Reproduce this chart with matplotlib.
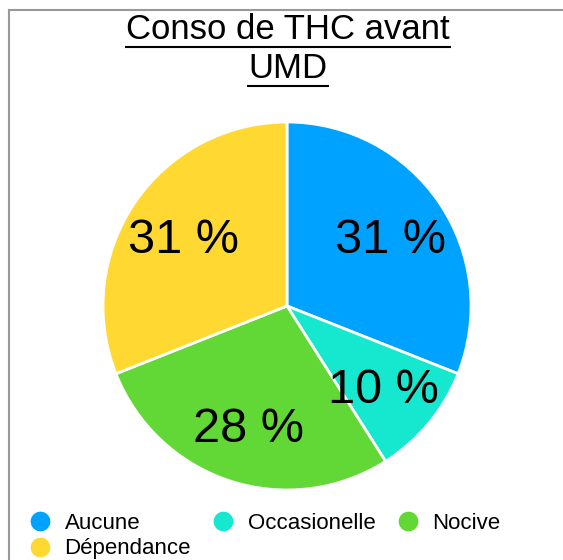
import matplotlib.pyplot as plt
from matplotlib.lines import Line2D

# Chart data
categories = ['Aucune', 'Occasionelle', 'Nocive', 'Dépendance']
values = [31, 10, 28, 31]
colors = ['#00A2FF', '#16E7CF', '#61D836', '#FFD932']
title_lines = ['Conso de THC avant', 'UMD']

plt.rcParams['font.family'] = ['Liberation Sans', 'DejaVu Sans']

W, H = 563, 560
fig = plt.figure(figsize=(W / 100, H / 100), dpi=100)

# pie axes placed in pixels: centre (287, 306), radius 184
cx, cy, r = 287, 306, 184
pad = 4
ax = fig.add_axes([(cx - r - pad) / W, (H - cy - r - pad) / H,
                   2 * (r + pad) / W, 2 * (r + pad) / H])
wedges, texts, autotexts = ax.pie(
    values, colors=colors, startangle=90, counterclock=False,
    autopct=lambda p: f'{p:.0f} %', pctdistance=0.68,
    wedgeprops=dict(edgecolor='white', linewidth=2),
    textprops=dict(fontsize=35, color='black'))
lim = (r + pad) / r
ax.set_xlim(-lim, lim)
ax.set_ylim(-lim, lim)
ax.set_aspect('equal')
# nudge the percentage labels down a little
for t in autotexts:
    x, y = t.get_position()
    t.set_position((x, y - 5 / r))

# title, two underlined lines
fig.canvas.draw()
renderer = fig.canvas.get_renderer()
for line, base in zip(title_lines, [39, 78]):
    t = fig.text(288 / W, 1 - base / H, line, ha='center', va='baseline', fontsize=25)
    bb = t.get_window_extent(renderer)
    uy = 1 - (base + 8) / H
    fig.add_artist(Line2D([bb.x0 / W, bb.x1 / W], [uy, uy], color='black', lw=1.5))

# grey frame lines at top and left
fig.add_artist(Line2D([9 / W, 1], [1 - 10 / H, 1 - 10 / H], color='#999999', lw=1.5))
fig.add_artist(Line2D([9 / W, 9 / W], [0, 1 - 10 / H], color='#999999', lw=1.5))

# legend, filled row by row
order = [0, 3, 1, 2]
handles = [Line2D([], [], marker='o', linestyle='none', markersize=15,
                  markerfacecolor=colors[i], markeredgecolor='white', markeredgewidth=0.8)
           for i in order]
labels = [categories[i] for i in order]
fig.legend(handles, labels, ncol=3, loc='upper left',
           bbox_to_anchor=(29 / W, 1 - 513 / H), frameon=False, fontsize=16,
           borderpad=0, borderaxespad=0, handlelength=1.0, handletextpad=0.6,
           columnspacing=0.95, labelspacing=0.2)

fig.savefig('out.png', dpi=100)
